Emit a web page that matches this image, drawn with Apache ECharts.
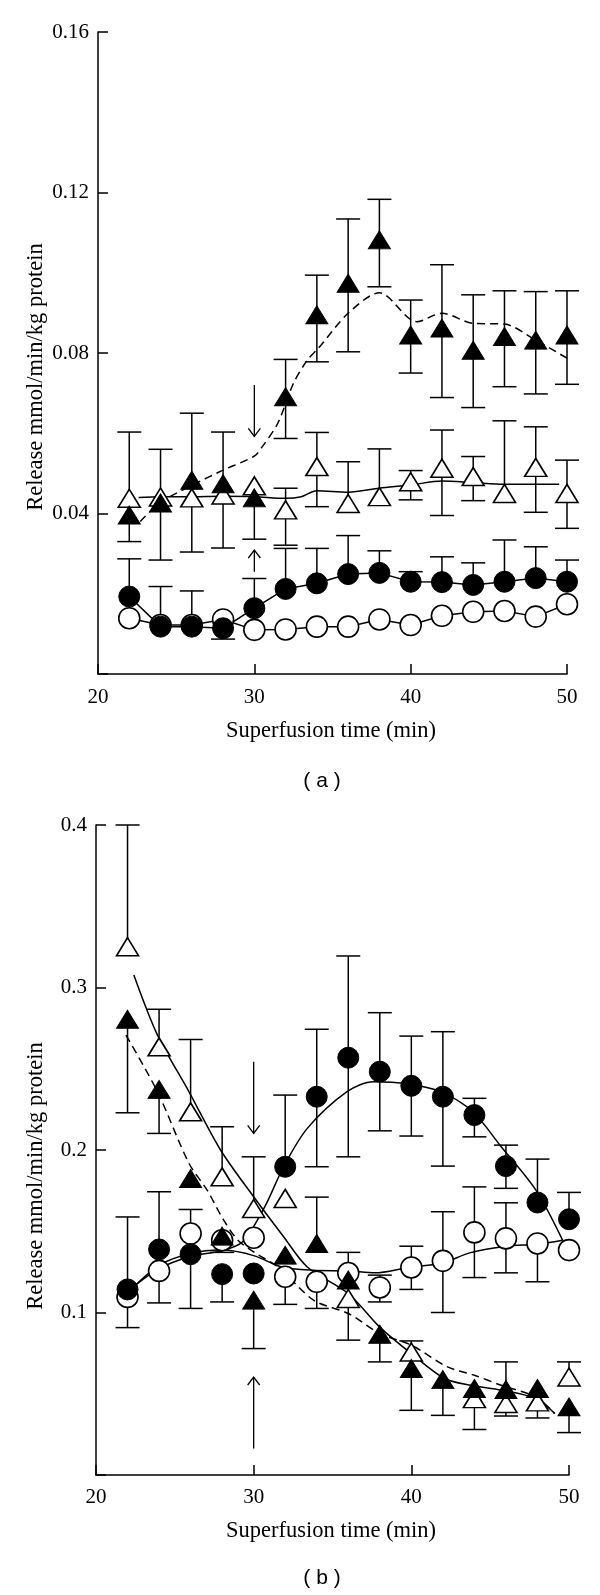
<!DOCTYPE html>
<html>
<head>
<meta charset="utf-8">
<script src="https://cdn.jsdelivr.net/npm/echarts@6/dist/echarts.min.js"></script>
<style>html,body{margin:0;padding:0;background:#fff;}#c{width:600px;height:1595px;}</style>
</head>
<body>
<div id="c"></div>
<script>
// ---------- DATA ----------
const xs = [22,24,26,28,30,32,34,36,38,40,42,44,46,48,50];

// Panel (a)
const aFilledTri   = [0.0396,0.0426,0.0483,0.0474,0.0439,0.0691,0.0895,0.0974,0.1082,0.0845,0.0862,0.0807,0.0841,0.0832,0.0845];
const aFilledTriHi = [null,null,0.065,0.0603,null,0.0784,0.0994,0.1134,0.1183,0.0932,0.102,0.0945,0.0955,0.0953,0.0955];
const aFilledTriLo = [0.033,0.0284,null,null,0.0336,0.0587,0.0778,0.0803,0.0965,0.075,0.0689,0.0664,0.0716,0.0698,0.0722];
const aOpenTri     = [0.0438,0.0441,0.0439,0.0446,0.0469,0.0409,0.0517,0.0425,0.0442,0.0479,0.0513,0.0492,0.045,0.0515,0.045];
const aOpenTriHi   = [0.0603,0.056,null,null,null,0.0463,0.0602,0.0529,0.0561,0.0507,0.0608,0.0542,0.0631,0.0616,0.0533];
const aOpenTriLo   = [null,null,0.0304,0.0314,null,0.0321,0.0417,null,null,0.0434,0.0395,0.0432,null,0.0403,0.0363];
const aFilledCirc   = [0.0193,0.0118,0.0118,0.0114,0.0164,0.0212,0.0226,0.0249,0.0252,0.023,0.0229,0.0222,0.023,0.0239,0.023];
const aFilledCircHi = [0.0287,0.0218,0.0207,null,0.0238,0.0313,0.0313,0.0345,0.0307,0.0255,0.0292,0.0277,0.0334,0.0317,0.0284];
const aFilledCircLo = [null,null,null,0.0087,null,null,null,null,null,null,null,null,null,null,null];
const aOpenCirc     = [0.0139,0.0122,0.0122,0.0136,0.011,0.0111,0.0118,0.0118,0.0136,0.0122,0.0145,0.0155,0.0157,0.0143,0.0174];
// fitted curves (a): [x, y]
const aCurveOpenTri = [[22.6,0.0440],[24,0.0442],[26,0.0442],[28,0.0443],[30,0.0442],[32,0.0438],[33,0.0442],[34,0.0457],[36,0.0453],[38,0.0463],[40,0.0471],[42,0.0481],[44,0.0477],[46,0.0473],[49.5,0.0473]];
const aCurveFilledTri = [[22.7,0.038],[24,0.0428],[26,0.047],[28,0.0508],[30,0.0543],[30.5,0.0566],[31.5,0.0625],[32.5,0.0724],[33.4,0.0783],[34.1,0.0812],[36,0.0899],[38,0.095],[40.4,0.0878],[42,0.0899],[44,0.0874],[46,0.0872],[48,0.0832],[50,0.0787]];
// arrows (a): [x, from, to]
const aArrows = [[30,0.072,0.0592],[30,0.0255,0.0309]];

// Panel (b)
const bFilledTri   = [0.2804,0.2373,0.1825,0.147,0.1076,0.1353,0.1425,0.12,0.0866,0.0655,0.0587,0.0532,0.0526,0.0532,0.0419];
const bFilledTriHi = [null,null,null,null,null,null,0.171,null,null,null,null,null,null,null,null];
const bFilledTriLo = [0.2229,0.2102,null,0.137,0.0778,null,null,null,0.0696,0.0398,0.0367,0.028,0.0363,0.0351,0.0261];
const bOpenTri     = [0.3251,0.2635,0.2235,0.1835,0.164,0.1702,null,0.1086,null,0.0757,null,0.047,0.044,0.045,0.0603];
const bOpenTriHi   = [0.400,0.2866,0.268,0.2143,0.1958,null,null,null,null,0.0825,null,null,0.0696,null,0.0696];
const bOpenTriLo   = [null,null,null,null,null,null,null,0.083,null,null,null,null,null,null,null];
const bFilledCirc   = [0.1142,0.1388,0.1359,0.1236,0.124,0.1897,0.2328,0.2568,0.2482,0.2395,0.2328,0.2215,0.1901,0.1677,0.1574];
const bFilledCircHi = [0.1588,0.1743,null,null,null,0.2338,0.2743,0.3194,0.2845,0.2701,0.2728,0.2318,0.203,0.1944,0.1739];
const bFilledCircLo = [null,null,0.1025,0.1065,null,null,0.1897,0.1958,0.2118,0.2086,0.1901,0.2081,0.1764,null,null];
const bOpenCirc     = [0.1096,0.1256,0.1486,0.1445,0.146,0.122,0.1189,0.1243,0.1154,0.1277,0.1318,0.1493,0.1456,0.1425,0.1384];
const bOpenCircHi   = [null,null,0.1634,null,null,null,null,0.137,0.123,0.1408,0.162,0.1773,0.1675,null,null];
const bOpenCircLo   = [0.0907,0.1059,null,null,null,0.105,0.1025,null,0.1065,0.1142,0.1,0.1215,0.1244,0.1189,null];
// fitted curves (b)
const bCurveFilledCirc = [[22,0.113],[24,0.127],[26,0.1345],[28,0.138],[29.3,0.1435],[30.7,0.165],[31.9,0.1897],[33.4,0.2133],[35.9,0.2358],[37.6,0.242],[39.8,0.2406],[41.9,0.2358],[43.9,0.2235],[45.7,0.202],[47.9,0.1753],[49.6,0.1444]];
const bCurveOpenCirc = [[22,0.112],[24,0.129],[26,0.1363],[28,0.1384],[30,0.135],[31.8,0.128],[33.8,0.126],[36,0.1256],[37.7,0.1244],[39.8,0.1277],[42,0.1305],[43.7,0.1367],[46,0.1408],[48,0.142],[49.6,0.1444]];
const bCurveOpenTri = [[22.4,0.3077],[23.9,0.2707],[25.9,0.2358],[27.9,0.2],[30,0.1712],[31.9,0.1466],[33.4,0.128],[36,0.1117],[38,0.091],[40,0.0747],[42.1,0.0594],[43.8,0.0552],[45.7,0.0522],[47.9,0.047],[49.1,0.0378]];
const bCurveFilledTri = [[21.9,0.2707],[23.9,0.2358],[25.9,0.1917],[27.05,0.1753],[28.1,0.1568],[29,0.1445],[30,0.1373],[31.6,0.1275],[33.8,0.1076],[36,0.0994],[38,0.0871],[40,0.0799],[42.3,0.0665],[44,0.0614],[45.7,0.0552],[47.9,0.048],[49.1,0.0378]];
const bArrows = [[30,0.2543,0.2102],[30,0.0163,0.0603]];

// Text
const yTitle = 'Release mmol/min/kg protein';
const xTitle = 'Superfusion time (min)';
const panelLabels = ['( a )', '( b )'];

// ---------- CHART ----------
const FONT = '"Liberation Serif","DejaVu Serif",serif';
const chart = echarts.init(document.getElementById('c'), null, {renderer:'canvas'});

function pts(vals){ const out=[]; xs.forEach((x,i)=>{ if(vals[i]!=null) out.push([x,vals[i]]); }); return out; }

function errSeries(g, vals, hi, lo){
  const data=[]; xs.forEach((x,i)=>{ if(vals[i]!=null && (hi[i]!=null||lo[i]!=null)) data.push([x, vals[i], i]); });
  return {
    type:'custom', xAxisIndex:g, yAxisIndex:g, z:3, silent:true, clip:false,
    data,
    renderItem(params, api){
      const x=api.value(0), y=api.value(1), i=api.value(2);
      const h=hi[i], l=lo[i];
      const p1=api.coord([x, h!=null?h:y]);
      const p2=api.coord([x, l!=null?l:y]);
      const st={stroke:'#000', lineWidth:1.5};
      const ch=[{type:'line', shape:{x1:p1[0],y1:p1[1],x2:p2[0],y2:p2[1]}, style:st}];
      if(h!=null) ch.push({type:'line', shape:{x1:p1[0]-12,y1:p1[1],x2:p1[0]+12,y2:p1[1]}, style:st});
      if(l!=null) ch.push({type:'line', shape:{x1:p2[0]-12,y1:p2[1],x2:p2[0]+12,y2:p2[1]}, style:st});
      return {type:'group', children:ch};
    }
  };
}

function arrowSeries(g, arr){
  return {
    type:'custom', xAxisIndex:g, yAxisIndex:g, z:3, silent:true, clip:false,
    data: arr,
    renderItem(params, api){
      const x=api.value(0);
      const a=api.coord([x, api.value(1)]), b=api.coord([x, api.value(2)]);
      const dir = b[1]>a[1] ? 1 : -1;
      const st={stroke:'#000', lineWidth:1.3};
      return {type:'group', children:[
        {type:'line', shape:{x1:a[0],y1:a[1],x2:b[0],y2:b[1]}, style:st},
        {type:'polyline', shape:{points:[[b[0]-6,b[1]-dir*8],[b[0],b[1]],[b[0]+6,b[1]-dir*8]]}, style:{stroke:'#000',lineWidth:1.3,fill:null}}
      ]};
    }
  };
}

function lineS(g, data, opts){
  return Object.assign({type:'line', xAxisIndex:g, yAxisIndex:g, data, showSymbol:false, symbol:'none', z:2, silent:true,
    lineStyle:{color:'#000', width:1.5}}, opts||{});
}
function scat(g, vals, symbol, filled, z){
  return {type:'scatter', xAxisIndex:g, yAxisIndex:g, data:pts(vals), symbol,
    symbolSize: symbol==='circle'?21:[22,18], z, silent:true,
    itemStyle: filled?{color:'#000', borderColor:'#000', borderWidth:1, opacity:1}:{color:'#fff', borderColor:'#000', borderWidth:1.6, opacity:1}};
}

function xAx(g, margin){
  return {type:'value', gridIndex:g, min:20, max:50, interval:10,
    axisLine:{show:true,onZero:false,lineStyle:{color:'#000',width:1.5}},
    axisTick:{show:true,inside:true,length:10,lineStyle:{color:'#000',width:1.5}},
    axisLabel:{color:'#000',fontFamily:FONT,fontSize:21,margin},
    splitLine:{show:false}};
}
function yAx(g, max, interval, dec){
  return {type:'value', gridIndex:g, min:0, max, interval,
    axisLine:{show:true,onZero:false,lineStyle:{color:'#000',width:1.5}},
    axisTick:{show:true,inside:true,length:10,lineStyle:{color:'#000',width:1.5}},
    axisLabel:{color:'#000',fontFamily:FONT,fontSize:21,margin:9,
      formatter:v=> v===0?'':v.toFixed(dec)},
    splitLine:{show:false}};
}

function txt(text, x, y, size, rot, font){
  return {type:'text', x, y, rotation:rot||0, silent:true,
    style:{text, fill:'#000', font: size+'px '+(font||FONT), textAlign:'center', textVerticalAlign:'middle', align:'center', verticalAlign:'middle'}};
}

const option = {
  backgroundColor:'#fff',
  animation:false,
  grid:[
    {left:98, top:32, width:469, height:642, containLabel:false},
    {left:96, top:825, width:473, height:650, containLabel:false}
  ],
  xAxis:[xAx(0,13), xAx(1,12)],
  yAxis:[yAx(0,0.16,0.04,2), yAx(1,0.4,0.1,1)],
  graphic:[
    txt(yTitle, 36, 377, 22.5, Math.PI/2),
    txt(yTitle, 36, 1176, 22.5, Math.PI/2),
    txt(xTitle, 331, 731, 22.5, 0),
    txt(xTitle, 331, 1531, 22.5, 0),
    txt(panelLabels[0], 322, 781, 21, 0, '"Liberation Sans",Arial,sans-serif'),
    txt(panelLabels[1], 322, 1578, 21, 0, '"Liberation Sans",Arial,sans-serif')
  ],
  series:[
    // panel a
    lineS(0, pts(aFilledCirc)),
    lineS(0, pts(aOpenCirc)),
    lineS(0, aCurveOpenTri, {smooth:0.3}),
    lineS(0, aCurveFilledTri, {smooth:0.3, lineStyle:{color:'#000',width:1.5,type:[8,5]}}),
    errSeries(0, aFilledTri, aFilledTriHi, aFilledTriLo),
    errSeries(0, aOpenTri, aOpenTriHi, aOpenTriLo),
    errSeries(0, aFilledCirc, aFilledCircHi, aFilledCircLo),
    arrowSeries(0, aArrows),
    scat(0, aOpenCirc, 'circle', false, 4),
    scat(0, aOpenTri, 'triangle', false, 5),
    scat(0, aFilledCirc, 'circle', true, 6),
    scat(0, aFilledTri, 'triangle', true, 7),
    // panel b
    lineS(1, bCurveFilledCirc, {smooth:0.3}),
    lineS(1, bCurveOpenCirc, {smooth:0.3}),
    lineS(1, bCurveOpenTri, {smooth:0.3}),
    lineS(1, bCurveFilledTri, {smooth:0.3, lineStyle:{color:'#000',width:1.5,type:[8,5]}}),
    errSeries(1, bFilledTri, bFilledTriHi, bFilledTriLo),
    errSeries(1, bOpenTri, bOpenTriHi, bOpenTriLo),
    errSeries(1, bFilledCirc, bFilledCircHi, bFilledCircLo),
    errSeries(1, bOpenCirc, bOpenCircHi, bOpenCircLo),
    arrowSeries(1, bArrows),
    scat(1, bOpenCirc, 'circle', false, 4),
    scat(1, bOpenTri, 'triangle', false, 5),
    scat(1, bFilledCirc, 'circle', true, 6),
    scat(1, bFilledTri, 'triangle', true, 7)
  ]
};
chart.setOption(option);
</script>
</body>
</html>
